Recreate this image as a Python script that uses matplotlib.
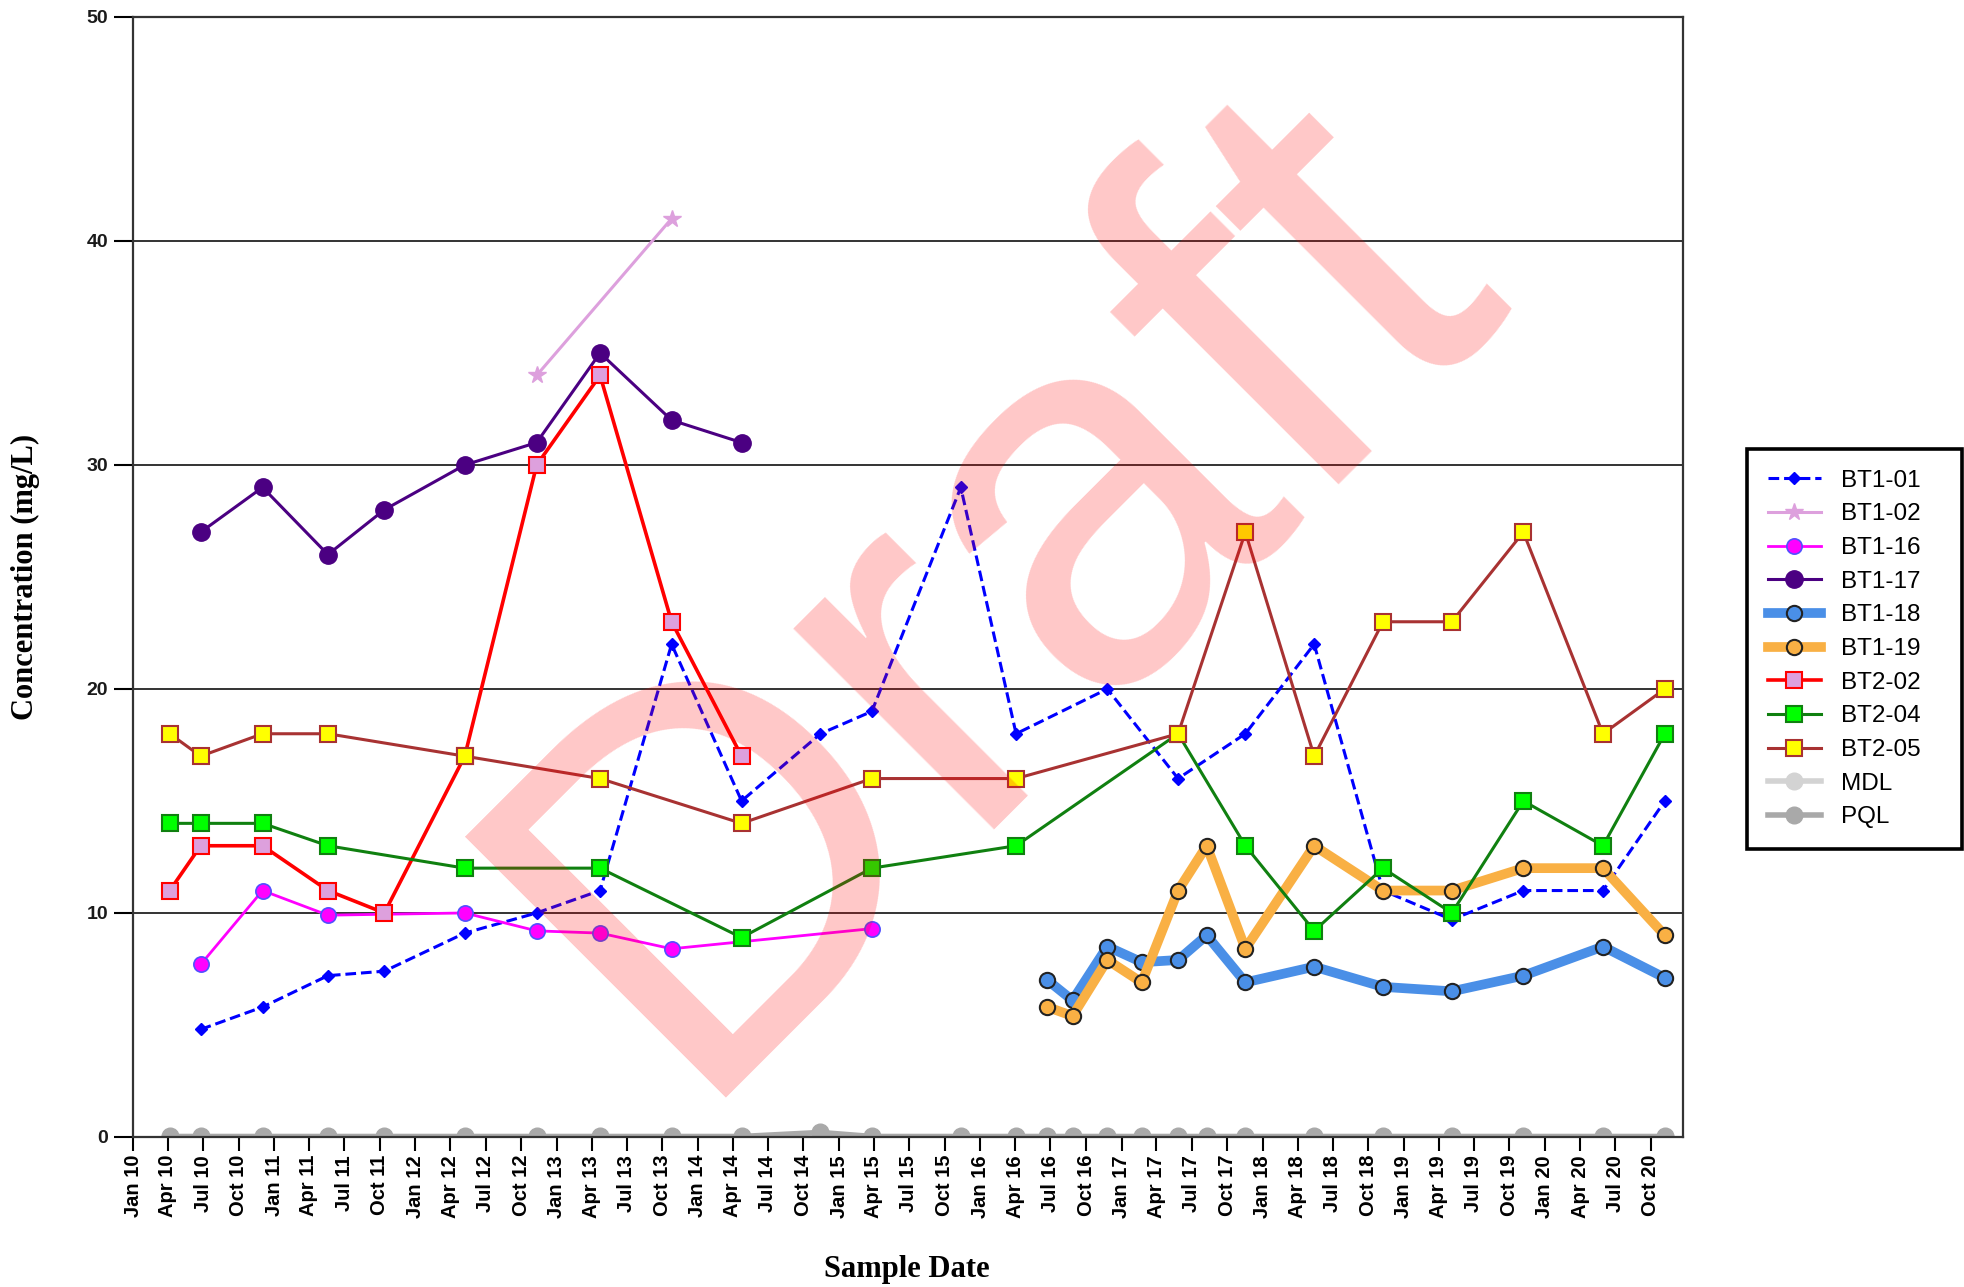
import pandas as pd
import matplotlib
matplotlib.use('Agg')
import matplotlib.pyplot as plt
import matplotlib.dates as mdates

plt.rcParams['font.family'] = ['Liberation Sans', 'DejaVu Sans']

# sample data (mg/L)
bt1_01_dates = ['2010-06-25', '2010-12-02', '2011-05-20', '2011-10-13', '2012-05-08', '2012-11-10',
                '2013-04-23', '2013-10-25', '2014-04-24', '2014-11-14', '2015-03-27', '2015-11-12',
                '2016-04-03', '2016-11-25', '2017-05-27', '2017-11-17', '2018-05-14', '2018-11-08',
                '2019-05-05', '2019-11-06', '2020-05-30', '2020-11-06']
bt1_01_vals = [4.8, 5.8, 7.2, 7.4, 9.1, 10, 11, 22, 15, 18, 19, 29, 18, 20, 16, 18, 22, 11, 9.7, 11, 11, 15]

bt1_02_dates = ['2012-11-10', '2013-10-25']
bt1_02_vals = [34, 41]

bt1_16_dates = ['2010-06-25', '2010-12-02', '2011-05-20', '2012-05-08', '2012-11-10', '2013-04-23',
                '2013-10-25', '2015-03-27']
bt1_16_vals = [7.7, 11, 9.9, 10, 9.2, 9.1, 8.4, 9.3]

bt1_17_dates = ['2010-06-25', '2010-12-02', '2011-05-20', '2011-10-13', '2012-05-08', '2012-11-10',
                '2013-04-23', '2013-10-25', '2014-04-24']
bt1_17_vals = [27, 29, 26, 28, 30, 31, 35, 32, 31]

late_dates = ['2016-06-23', '2016-08-27', '2016-11-25', '2017-02-22', '2017-05-27', '2017-08-09',
              '2017-11-17', '2018-05-14', '2018-11-08', '2019-05-05', '2019-11-06', '2020-05-30',
              '2020-11-06']
bt1_18_vals = [7.0, 6.1, 8.5, 7.8, 7.9, 9.0, 6.9, 7.6, 6.7, 6.5, 7.2, 8.5, 7.1]
bt1_19_vals = [5.8, 5.4, 7.9, 6.9, 11, 13, 8.4, 13, 11, 11, 12, 12, 9.0]

bt2_02_dates = ['2010-04-06', '2010-06-25', '2010-12-02', '2011-05-20', '2011-10-13', '2012-05-08',
                '2012-11-10', '2013-04-23', '2013-10-25', '2014-04-24']
bt2_02_vals = [11, 13, 13, 11, 10, 17, 30, 34, 23, 17]

bt2_dates = ['2010-04-06', '2010-06-25', '2010-12-02', '2011-05-20', '2012-05-08', '2013-04-23',
             '2014-04-24', '2015-03-27', '2016-04-03', '2017-05-27', '2017-11-17', '2018-05-14',
             '2018-11-08', '2019-05-05', '2019-11-06', '2020-05-30', '2020-11-06']
bt2_04_vals = [14, 14, 14, 13, 12, 12, 8.9, 12, 13, 18, 13, 9.2, 12, 10, 15, 13, 18]
bt2_05_vals = [18, 17, 18, 18, 17, 16, 14, 16, 16, 18, 27, 17, 23, 23, 27, 18, 20]

limit_dates = ['2010-04-06', '2010-06-25', '2010-12-02', '2011-05-20', '2011-10-13', '2012-05-08',
               '2012-11-10', '2013-04-23', '2013-10-25', '2014-04-24', '2014-11-14', '2015-03-27',
               '2015-11-12', '2016-04-03', '2016-06-23', '2016-08-27', '2016-11-25', '2017-02-22',
               '2017-05-27', '2017-08-09', '2017-11-17', '2018-05-14', '2018-11-08', '2019-05-05',
               '2019-11-06', '2020-05-30', '2020-11-06']
mdl_vals = [0.0] * 27
pql_vals = [0.02] * 10 + [0.2] + [0.02] * 16

d = pd.to_datetime

fig = plt.figure(figsize=(19.65, 12.87), dpi=100)
ax = fig.add_axes([0.0677, 0.1166, 0.7888, 0.8702])

ax.plot(d(bt1_01_dates), bt1_01_vals, color='#0000ff', lw=2.2, dashes=(3.5, 1.6),
        marker='D', ms=6, label='BT1-01')
ax.plot(d(bt1_02_dates), bt1_02_vals, color='#dda0dd', lw=2.2, marker='*', ms=13, label='BT1-02')
ax.plot(d(bt1_16_dates), bt1_16_vals, color='#ff00ff', lw=2, marker='o', ms=11,
        mfc='#ff00ff', mec='#5050ff', mew=1.2, label='BT1-16')
ax.plot(d(bt1_17_dates), bt1_17_vals, color='#4b0082', lw=2.2, marker='o', ms=12.5, label='BT1-17')
ax.plot(d(late_dates), bt1_18_vals, color='#4a8fe7', lw=7, marker='o', ms=11,
        mfc='#4a8fe7', mec='#222222', mew=1.5, label='BT1-18')
ax.plot(d(late_dates), bt1_19_vals, color='#f9b044', lw=7, marker='o', ms=11,
        mfc='#f9b044', mec='#222222', mew=1.5, label='BT1-19')
ax.plot(d(bt2_02_dates), bt2_02_vals, color='#ff0000', lw=2.6, marker='s', ms=11.5,
        mfc='#dda0dd', mec='#ff0000', mew=1.5, label='BT2-02')
ax.plot(d(bt2_dates), bt2_04_vals, color='#108010', lw=2.2, marker='s', ms=11.5,
        mfc='#00ff00', mec='#108010', mew=1.5, label='BT2-04')
ax.plot(d(bt2_dates), bt2_05_vals, color='#a83232', lw=2.2, marker='s', ms=11.5,
        mfc='#ffff00', mec='#a83232', mew=1.5, label='BT2-05')
ax.plot(d(limit_dates), mdl_vals, color='#d3d3d3', lw=4, marker='o', ms=12, label='MDL')
ax.plot(d(limit_dates), pql_vals, color='#a9a9a9', lw=4, marker='o', ms=12, label='PQL')

ax.set_xlim(d('2010-01-01'), d('2020-12-23'))
ax.set_ylim(0, 50)
ax.set_yticks([0, 10, 20, 30, 40, 50])
ax.xaxis.set_major_locator(mdates.MonthLocator(bymonth=[1, 4, 7, 10]))
ax.xaxis.set_major_formatter(mdates.DateFormatter('%b %y'))
ax.grid(axis='y', color='#333333', lw=1.4)
ax.set_axisbelow(True)
for s in ax.spines.values():
    s.set_color('#333333')
    s.set_linewidth(1.6)

ax.tick_params(axis='x', length=10, width=1.5, pad=3, labelsize=14.5, labelcolor='black')
ax.tick_params(axis='y', length=14, width=1.5, pad=4, labelsize=14, labelcolor='#1a1a1a')
plt.setp(ax.get_xticklabels(), rotation=90, fontweight='bold')
plt.setp(ax.get_yticklabels(), fontweight='bold')

fig.text(907 / 1965, 1 - 1270 / 1287, 'Sample Date', family='Liberation Serif', fontweight='bold',
         fontsize=22, ha='center', va='center')
fig.text(25 / 1965, 1 - 577 / 1287, 'Concentration (mg/L)', family='Liberation Serif',
         fontweight='bold', fontsize=22, ha='center', va='center', rotation=90)

ax.text(0.556, 0.49, 'Draft', transform=ax.transAxes, fontsize=386, color='red', alpha=0.22,
        rotation=45, ha='center', va='center', zorder=10)

leg = ax.legend(loc='upper left', mode='expand',
                bbox_to_anchor=(1747 / 1965, 1 - 855 / 1287, 215 / 1965, 406 / 1287),
                bbox_transform=fig.transFigure, fontsize=17.5, frameon=True, fancybox=False,
                edgecolor='black', framealpha=1, handlelength=2.2, labelspacing=0.48,
                borderpad=0.85, borderaxespad=0)
leg.get_frame().set_linewidth(2.6)

fig.savefig('out.png', dpi=100)
